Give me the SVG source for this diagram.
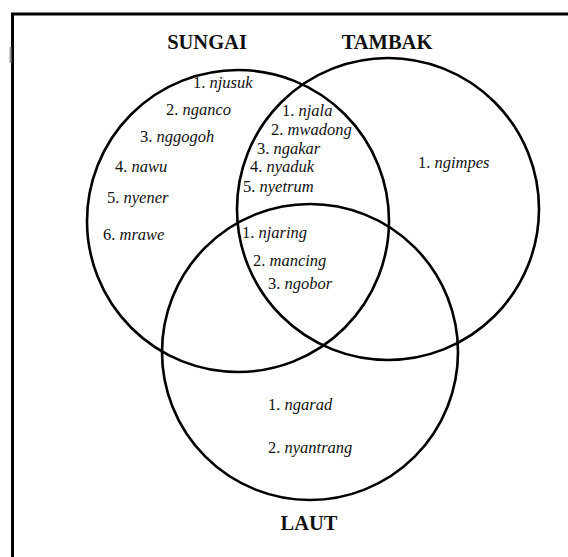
<svg xmlns="http://www.w3.org/2000/svg" width="568" height="557" viewBox="0 0 568 557">
<style>
.c{fill:none;stroke:#000;stroke-width:2.6}
.t{font-family:"Liberation Serif","Times New Roman",serif;font-size:16.5px;fill:#111}
.w{font-style:italic}
.h{font-family:"Liberation Serif","Times New Roman",serif;font-size:20.5px;font-weight:bold;fill:#111;text-anchor:middle}
</style>
<rect width="568" height="557" fill="#fff"/>
<g id="frame">
<path d="M12.5,557 V14 H568" fill="none" stroke="#000" stroke-width="3"/>
<line x1="10.5" y1="47" x2="10.5" y2="63" stroke="#999" stroke-width="2"/>
</g>
<g id="sungai">
<circle class="c" cx="238" cy="221" r="151"/>
<text class="h" x="207" y="49">SUNGAI</text>
<text class="t" x="193" y="88">1. <tspan class="w">njusuk</tspan></text>
<text class="t" x="166" y="115">2. <tspan class="w">nganco</tspan></text>
<text class="t" x="140" y="142">3. <tspan class="w">nggogoh</tspan></text>
<text class="t" x="115" y="172">4. <tspan class="w">nawu</tspan></text>
<text class="t" x="107" y="203">5. <tspan class="w">nyener</tspan></text>
<text class="t" x="103" y="240">6. <tspan class="w">mrawe</tspan></text>
</g>
<g id="tambak">
<circle class="c" cx="388" cy="209" r="151"/>
<text class="h" x="387" y="49">TAMBAK</text>
<text class="t" x="418" y="168">1. <tspan class="w">ngimpes</tspan></text>
</g>
<g id="laut">
<circle class="c" cx="310" cy="352" r="148"/>
<text class="h" x="309" y="530">LAUT</text>
<text class="t" x="268" y="410">1. <tspan class="w">ngarad</tspan></text>
<text class="t" x="268" y="453">2. <tspan class="w">nyantrang</tspan></text>
</g>
<g id="sungai-tambak">
<text class="t" x="282" y="116">1. <tspan class="w">njala</tspan></text>
<text class="t" x="271" y="135">2. <tspan class="w">mwadong</tspan></text>
<text class="t" x="257" y="154">3. <tspan class="w">ngakar</tspan></text>
<text class="t" x="250" y="172">4. <tspan class="w">nyaduk</tspan></text>
<text class="t" x="243" y="192">5. <tspan class="w">nyetrum</tspan></text>
</g>
<g id="all-three">
<text class="t" x="242" y="238">1. <tspan class="w">njaring</tspan></text>
<text class="t" x="253" y="266">2. <tspan class="w">mancing</tspan></text>
<text class="t" x="268" y="289">3. <tspan class="w">ngobor</tspan></text>
</g>
<g id="connectors"></g>
</svg>
